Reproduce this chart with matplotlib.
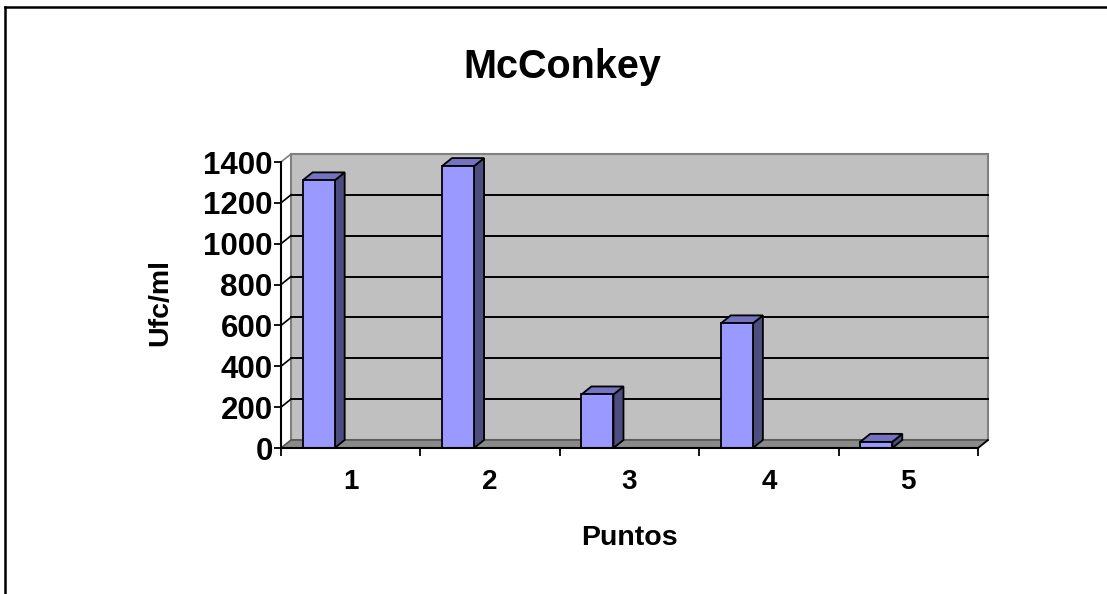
import matplotlib
matplotlib.use("Agg")
import matplotlib.pyplot as plt
from matplotlib.patches import Polygon
from matplotlib.lines import Line2D

# data
puntos = [1, 2, 3, 4, 5]
ufc = [1310, 1380, 262, 610, 30]
yticks = [0, 200, 400, 600, 800, 1000, 1200, 1400]

plt.rcParams['font.family'] = ['Liberation Sans', 'DejaVu Sans']
plt.rcParams['font.weight'] = 'bold'

W, H = 1107, 594
fig = plt.figure(figsize=(W / 100, H / 100), dpi=100)
fig.patch.set_facecolor('white')

# front plane of the 3d box
ax = fig.add_axes([281 / W, 146 / H, 697 / W, 286 / H])
ax.set_xlim(0.5, 5.5)
ax.set_ylim(0, 1400)
ax.set_facecolor('none')

# depth of the fake 3d, pixels -> data units
dpx, dpy = 10, 8
dx = dpx * (5.5 - 0.5) / 697
dy = dpy * 1400 / 286
x0, x1 = 0.5, 5.5
ytop = 1400

wall_col = '#c0c0c0'
floor_col = '#8a8a8a'
front_col = '#9999ff'
side_col = '#4d4d80'
top_col = '#7373bf'

def poly(pts, fc, ec='black', lw=1.3, z=1):
    p = Polygon(pts, closed=True, facecolor=fc, edgecolor=ec, linewidth=lw,
                zorder=z, clip_on=False, joinstyle='miter')
    ax.add_patch(p)

# back wall
poly([(x0 + dx, dy), (x1 + dx, dy), (x1 + dx, ytop + dy), (x0 + dx, ytop + dy)],
     wall_col, ec='#808080', lw=1.5, z=0)
# floor
poly([(x0, 0), (x1, 0), (x1 + dx, dy), (x0 + dx, dy)], floor_col, ec='#555555', lw=1.2, z=0.5)

# gridlines on back wall and the side wall diagonals
for v in yticks[1:-1]:
    ax.plot([x0 + dx, x1 + dx], [v + dy, v + dy], color='black', lw=1.4, zorder=0.6, clip_on=False)
for v in yticks[1:]:
    ax.plot([x0, x0 + dx], [v, v + dy], color='#808080' if v == ytop else 'black',
            lw=1.2, zorder=0.6, clip_on=False)
ax.plot([x1, x1 + dx], [0, dy], color='black', lw=1.2, zorder=0.6, clip_on=False)

# 3d bars
for x, v in zip(puntos, ufc):
    l, r = x - 0.345, x - 0.115
    poly([(r, 0), (r + dx, dy), (r + dx, v + dy), (r, v)], side_col, z=2)
    poly([(l, v), (r, v), (r + dx, v + dy), (l + dx, v + dy)], top_col, z=2)
    poly([(l, 0), (r, 0), (r, v), (l, v)], front_col, z=3)

# axes styling
for s in ['top', 'right']:
    ax.spines[s].set_visible(False)
for s in ['left', 'bottom']:
    ax.spines[s].set_linewidth(1.5)
    ax.spines[s].set_zorder(4)
ax.set_yticks(yticks)
ax.set_yticklabels([str(t) for t in yticks], fontsize=22.5, fontweight='bold')
ax.tick_params(axis='y', length=5, width=1.3, pad=1)
ax.set_xticks(puntos)
ax.set_xticklabels([str(p) for p in puntos], fontsize=20, fontweight='bold')
ax.set_xticks([0.5, 1.5, 2.5, 3.5, 4.5, 5.5], minor=True)
ax.tick_params(axis='x', which='major', length=0, pad=15)
ax.tick_params(axis='x', which='minor', length=6, width=1.3)

fig.text(562 / W, 1 - 78 / H, 'McConkey', fontsize=28.5, fontweight='bold',
         ha='center', va='baseline')
fig.text(160 / W, 1 - 303 / H, 'Ufc/ml', fontsize=20.5, fontweight='bold',
         ha='center', va='center', rotation=90)
fig.text(629 / W, 1 - 545 / H, 'Puntos', fontsize=20.5, fontweight='bold',
         ha='center', va='baseline')

# chart area border (only top and left visible)
fig.add_artist(Line2D([5 / W, 1.02], [1 - 7 / H, 1 - 7 / H], color='black', lw=1.8,
                      transform=fig.transFigure))
fig.add_artist(Line2D([5 / W, 5 / W], [-0.02, 1 - 7 / H], color='black', lw=1.8,
                      transform=fig.transFigure))

fig.savefig('out.png', dpi=100)
